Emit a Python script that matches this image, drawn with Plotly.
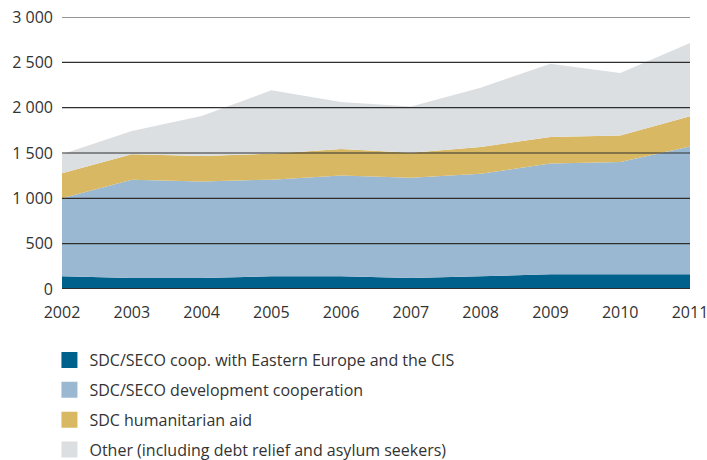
import plotly.graph_objects as go

years = [2002, 2003, 2004, 2005, 2006, 2007, 2008, 2009, 2010, 2011]
eastern = [140, 121, 121, 140, 140, 121, 140, 162, 162, 162]
development = [860, 1085, 1066, 1066, 1113, 1107, 1132, 1221, 1238, 1411]
humanitarian = [276, 279, 279, 287, 291, 276, 294, 293, 294, 331]
other = [209, 257, 441, 698, 518, 510, 654, 809, 688, 808]

names = [
    "SDC/SECO coop. with Eastern Europe and the CIS",
    "SDC/SECO development cooperation",
    "SDC humanitarian aid",
    "Other (including debt relief and asylum seekers)",
]
colors = ["#00628c", "#9bb8d2", "#d8b862", "#dcdfe2"]
series = [eastern, development, humanitarian, other]
y_ticks = [0, 500, 1000, 1500, 2000, 2500, 3000]

fig = go.Figure()
for name, vals, col in zip(names, series, colors):
    fig.add_trace(go.Scatter(
        x=years, y=vals, name=name, stackgroup="one", mode="none",
        fillcolor=col, line=dict(width=0), showlegend=False, hoverinfo="skip",
    ))

for i, (name, col) in enumerate(zip(names, colors)):
    fig.add_trace(go.Scatter(
        x=[None], y=[None], name=name, mode="markers",
        marker=dict(symbol="square", size=16, color=col),
        legendgroup=f"g{i}", showlegend=True,
    ))

for v in y_ticks:
    fig.add_shape(
        type="line", xref="paper", yref="y", x0=0, x1=1, y0=v, y1=v,
        line=dict(color="#2e2e2e", width=2.2 if v == 0 else 1.2),
        layer="above",
    )

font_family = "Open Sans, Noto Sans, sans-serif"
fig.update_layout(
    width=707, height=460,
    margin=dict(l=62, r=17, t=17, b=171, autoexpand=False),
    paper_bgcolor="white", plot_bgcolor="white",
    separators=". ",
    font=dict(family=font_family, color="#333333", size=16),
    xaxis=dict(
        range=[years[0], years[-1]], tickmode="array", tickvals=years,
        showgrid=False, zeroline=False, showline=False, automargin=False,
        ticklabeloverflow="allow",
        ticks="", tickfont=dict(size=16, color="#333333"), ticklabelstandoff=12,
    ),
    yaxis=dict(
        range=[0, 3000], tickmode="array", tickvals=y_ticks,
        tickformat=",", showgrid=False, zeroline=False, showline=False,
        automargin=False,
        ticks="", tickfont=dict(size=16, color="#333333"), ticklabelstandoff=8,
    ),
    legend=dict(
        orientation="v", x=-0.02, xanchor="left",
        yref="container", y=0.254, yanchor="top",
        font=dict(size=16, color="#333333"), tracegroupgap=6,
        bgcolor="rgba(0,0,0,0)", itemsizing="trace",
    ),
)

fig.write_html("out.html")
